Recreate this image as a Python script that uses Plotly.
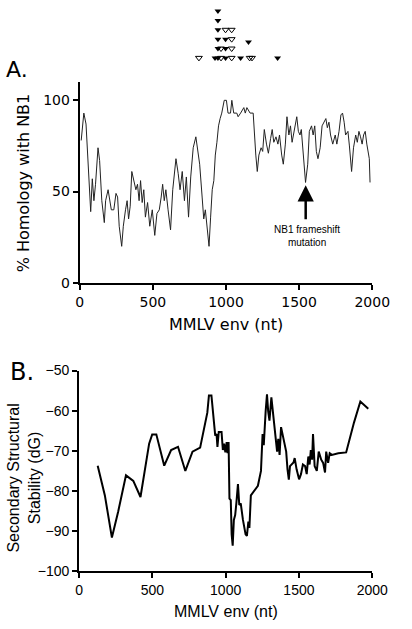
import plotly.graph_objects as go

# Panel A: % homology with NB1 along MMLV env
homology_x = [10, 28, 43, 65, 75, 86, 97, 108, 125, 136, 151, 168, 177, 194, 205, 216, 233, 248, 259, 270,
              287, 298, 313, 324, 334, 345, 356, 371, 384, 395, 406, 416, 427, 438, 449, 464, 479, 496, 513, 528,
              544, 557, 567, 578, 589, 604, 621, 636, 658, 673, 686, 701, 716, 729, 744, 759, 776, 794, 805, 820,
              837, 848, 859, 869, 884, 895, 906, 917, 927, 938, 949, 960, 971, 988, 1003, 1014, 1031, 1040, 1053, 1074,
              1083, 1100, 1122, 1132, 1143, 1165, 1186, 1204, 1214, 1225, 1240, 1251, 1262, 1277, 1290, 1305, 1316, 1327, 1342, 1355,
              1366, 1381, 1392, 1406, 1417, 1430, 1441, 1452, 1467, 1484, 1495, 1506, 1515, 1529, 1544, 1559, 1570, 1585, 1596, 1607,
              1618, 1629, 1644, 1657, 1672, 1683, 1693, 1704, 1715, 1730, 1747, 1758, 1773, 1786, 1797, 1808, 1818, 1834, 1844, 1859,
              1872, 1887, 1898, 1909, 1920, 1931, 1941, 1952, 1963, 1980, 1985]
homology_y = [78, 93, 87, 56, 39, 57, 45, 54, 74, 67, 45, 33, 45, 51, 45, 40, 40, 49, 47, 31,
              20, 31, 40, 45, 35, 42, 61, 56, 51, 54, 45, 56, 44, 51, 36, 44, 31, 40, 26, 38,
              40, 47, 54, 45, 51, 40, 29, 51, 68, 60, 51, 61, 45, 58, 36, 58, 74, 80, 74, 65,
              47, 35, 40, 31, 20, 36, 51, 56, 70, 77, 86, 90, 93, 100, 100, 93, 93, 100, 93, 93,
              91, 93, 96, 93, 96, 93, 93, 70, 61, 70, 74, 72, 84, 76, 71, 79, 84, 77, 80, 76,
              81, 70, 65, 76, 91, 81, 86, 77, 83, 91, 83, 81, 84, 70, 55, 65, 83, 86, 81, 86,
              72, 68, 74, 86, 88, 90, 85, 88, 81, 76, 81, 76, 83, 92, 93, 88, 81, 83, 75, 61,
              74, 81, 77, 83, 80, 76, 81, 83, 76, 68, 55]

# Panel B: secondary structural stability (dG)
stability_x = [127, 176, 224, 267, 320, 370, 419, 478, 499, 527, 581, 628, 675, 725, 774, 826, 875, 886, 903, 918,
               929, 938, 944, 953, 972, 981, 989, 998, 1007, 1013, 1020, 1026, 1035, 1041, 1048, 1056, 1065, 1073, 1084, 1093,
               1103, 1118, 1136, 1145, 1155, 1162, 1172, 1220, 1241, 1252, 1260, 1273, 1282, 1290, 1299, 1312, 1320, 1331, 1342, 1351,
               1359, 1368, 1378, 1389, 1402, 1413, 1422, 1431, 1439, 1450, 1463, 1471, 1484, 1501, 1514, 1527, 1542, 1553, 1564, 1573,
               1581, 1590, 1596, 1607, 1622, 1635, 1652, 1665, 1678, 1686, 1699, 1710, 1725, 1768, 1822, 1876, 1919, 1973]
stability_y = [-73.7, -81.1, -91.6, -85.1, -76.1, -77.5, -81.5, -68.2, -65.9, -65.9, -73.7, -69.8, -69.0, -75.0, -70.2, -69.2, -60.5, -56.2, -56.2, -63.3,
               -66.2, -65.8, -69.0, -65.3, -65.3, -69.8, -68.2, -70.4, -67.8, -70.6, -67.8, -81.9, -82.3, -90.8, -93.6, -87.2, -86.0, -83.1, -78.3, -83.5,
               -83.1, -87.2, -90.8, -91.2, -87.6, -89.2, -81.1, -78.7, -75.0, -65.8, -68.6, -60.1, -55.9, -60.1, -62.5, -56.7, -59.3, -64.5, -67.4, -70.2,
               -67.0, -71.0, -64.1, -65.9, -68.2, -70.2, -74.6, -77.2, -73.8, -73.4, -72.9, -71.8, -74.6, -77.1, -75.8, -73.4, -73.8, -75.8, -71.4, -73.4,
               -69.8, -72.2, -65.8, -73.8, -75.0, -70.2, -72.2, -73.0, -75.4, -70.2, -73.0, -70.6, -71.0, -70.6, -70.4, -62.9, -57.7, -59.5]

# Triangle markers above panel A (position in nt, stack row)
filled_x = [925, 945, 945, 945, 945, 945, 945, 997, 997, 997, 1100, 1154, 1353]
filled_row = [0, 0, 1, 2, 3, 4, 5, 0, 1, 2, 0, 1.7, 0]
open_x = [815, 966, 966, 997, 1039, 1039, 1039, 1039, 1162, 1178]
open_row = [0, 0, 1, 3, 0, 1, 2, 3, 0, 0]

x_ticks = [0, 500, 1000, 1500, 2000]
a_y_ticks = [0, 50, 100]
b_y_ticks = [-100, -90, -80, -70, -60, -50]

W, H = 412, 629
def px(x):
    return x / W
def py(y):
    return 1 - y / H

fontA = "DejaVu Sans"
fontB = "Liberation Sans"

fig = go.Figure()
fig.add_trace(go.Scatter(x=homology_x, y=homology_y, mode="lines",
                         line=dict(color="#222", width=1), xaxis="x", yaxis="y", showlegend=False))
fig.add_trace(go.Scatter(x=stability_x, y=stability_y, mode="lines",
                         line=dict(color="black", width=2), xaxis="x2", yaxis="y2", showlegend=False))
fig.add_trace(go.Scatter(x=filled_x, y=filled_row, mode="markers",
                         marker=dict(symbol="triangle-down", size=6, color="black"),
                         xaxis="x", yaxis="y3", showlegend=False, cliponaxis=False))
fig.add_trace(go.Scatter(x=open_x, y=open_row, mode="markers",
                         marker=dict(symbol="triangle-down-open", size=6, color="black", line=dict(width=1)),
                         xaxis="x", yaxis="y3", showlegend=False, cliponaxis=False))

axis_common = dict(showline=True, linewidth=2, linecolor="black", ticks="outside", ticklen=5,
                   tickwidth=1.5, tickcolor="black", showgrid=False, zeroline=False, mirror=False)

fig.update_layout(
    width=W, height=H, margin=dict(l=0, r=0, t=0, b=0),
    paper_bgcolor="white", plot_bgcolor="white",
    xaxis=dict(domain=[px(80), px(389)], range=[0, 2000], tickvals=x_ticks, anchor="y",
               tickfont=dict(family=fontA, size=14, color="black"), **axis_common),
    yaxis=dict(domain=[py(282), py(76)], range=[0, 110], tickvals=a_y_ticks, anchor="x",
               tickfont=dict(family=fontA, size=14, color="black"), **axis_common),
    xaxis2=dict(domain=[px(79.3), px(389)], range=[0, 2000], tickvals=x_ticks, anchor="y2",
                tickfont=dict(family=fontB, size=14, color="black"), **axis_common),
    yaxis2=dict(domain=[py(578), py(372)], range=[-100, -50], tickvals=b_y_ticks, anchor="x2",
                tickfont=dict(family=fontB, size=14, color="black"), **axis_common),
    yaxis3=dict(domain=[py(56), 1], range=[-0.5, 5.33], anchor="x", visible=False, fixedrange=True),
)

ann = [
    dict(text="A.", x=px(14), y=py(63), font=dict(family=fontA, size=22, color="black")),
    dict(text="B.", x=px(19), y=py(374), font=dict(family=fontA, size=24, color="black")),
    dict(text="% Homology with NB1", x=px(21), y=py(179), textangle=-90,
         font=dict(family=fontA, size=16, color="black")),
    dict(text="MMLV env (nt)", x=px(234), y=py(325), font=dict(family=fontA, size=16, color="black")),
    dict(text="Secondary Structural<br>Stability (dG)", x=px(21), y=py(482), textangle=-90,
         font=dict(family=fontB, size=16, color="black")),
    dict(text="MMLV env (nt)", x=px(234), y=py(619), font=dict(family=fontB, size=16, color="black")),
    dict(text="NB1 frameshift<br>mutation", x=px(320), y=py(234),
         font=dict(family=fontB, size=10, color="black")),
]
for a in ann:
    a.update(xref="paper", yref="paper", showarrow=False, xanchor="center", yanchor="middle")
    fig.add_annotation(**a)

fig.add_annotation(x=1545, y=53.5, xref="x", yref="y", ax=1545, ay=34, axref="x", ayref="y",
                   text="", showarrow=True, arrowhead=2, arrowsize=1.3, arrowwidth=2.5, arrowcolor="black")

fig.write_html("out.html", config={"displayModeBar": False},
               post_script="document.body.style.margin='0';document.body.style.overflow='hidden';")
